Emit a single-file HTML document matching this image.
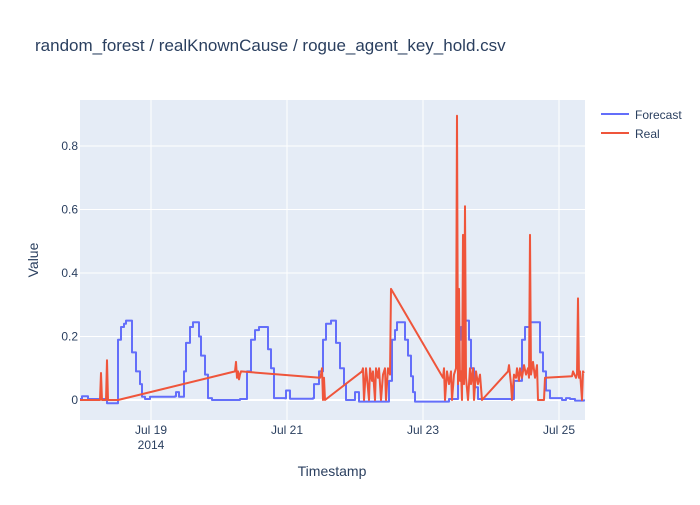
<!DOCTYPE html>
<html><head><meta charset="utf-8"><style>
body{margin:0;background:#fff;font-family:"Liberation Sans",Arial,sans-serif}
svg text{font-family:"Liberation Sans",Arial,sans-serif;fill:#2a3f5f}
</style></head><body>
<svg id="chart" width="700" height="500">
<rect width="700" height="500" fill="#fff"/>
<text x="35" y="51" font-size="17">random_forest / realKnownCause / rogue_agent_key_hold.csv</text>
<rect x="80" y="100" width="505" height="320" fill="#e5ecf6"/>
<g id="grid"></g>
<g id="ticks"></g>
<clipPath id="clip"><rect x="80" y="100" width="505" height="320"/></clipPath>
<g id="series" clip-path="url(#clip)"></g>
<text x="332" y="476" font-size="14" text-anchor="middle">Timestamp</text>
<text transform="translate(38,260) rotate(-90)" font-size="14" text-anchor="middle">Value</text>
<g>
<line x1="601" y1="114" x2="629" y2="114" stroke="#636efa" stroke-width="2"/>
<text x="635" y="119" font-size="12">Forecast</text>
<line x1="601" y1="133" x2="629" y2="133" stroke="#ef553b" stroke-width="2"/>
<text x="635" y="138" font-size="12">Real</text>
</g>
</svg>
<script>
// time in days of July 2014 (fractional), values
const forecastT=[17.956,17.985,18.044,18.074,18.324,18.353,18.5,18.515,18.559,18.603,18.632,18.706,18.721,18.779,18.838,18.868,18.912,18.985,19.353,19.368,19.397,19.412,19.471,19.485,19.515,19.574,19.618,19.691,19.706,19.735,19.794,19.838,19.897,20.309,20.397,20.412,20.471,20.529,20.588,20.691,20.721,20.765,20.809,20.971,20.985,21.029,21.044,21.382,21.397,21.441,21.471,21.529,21.574,21.647,21.706,21.721,21.779,21.838,21.868,21.971,22.0,22.044,22.059,22.368,22.5,22.544,22.588,22.618,22.691,22.735,22.779,22.824,22.853,22.882,23.324,23.382,23.485,23.515,23.559,23.588,23.662,23.676,23.706,23.75,23.809,24.279,24.338,24.456,24.5,24.574,24.691,24.721,24.765,24.809,24.868,24.971,25.044,25.103,25.162,25.235,25.368];
const forecastV=[0.003,0.012,0.012,0.003,0.003,-0.01,-0.01,0.19,0.23,0.24,0.25,0.25,0.15,0.09,0.05,0.01,0.003,0.01,0.012,0.025,0.025,0.01,0.01,0.09,0.18,0.23,0.245,0.245,0.2,0.14,0.08,0.006,0,0.003,0.003,0.09,0.19,0.22,0.23,0.23,0.16,0.1,0.006,0.005,0.03,0.03,0.004,0.006,0.05,0.05,0.09,0.19,0.24,0.25,0.25,0.18,0.1,0.05,0,0,0.025,0.025,-0.005,-0.005,0.06,0.19,0.22,0.245,0.245,0.19,0.14,0.075,0.025,-0.005,-0.005,0.003,0.003,0.19,0.23,0.25,0.25,0.19,0.1,0.04,0.003,0.003,0.06,0.19,0.23,0.245,0.245,0.15,0.09,0.03,0.006,0.006,0,0.006,0.003,-0.002,0.002];
const realT=[17.956,18.25,18.265,18.279,18.338,18.353,18.368,18.515,20.235,20.25,20.265,20.279,20.294,20.309,20.324,21.485,21.5,21.515,21.529,21.544,21.559,22.103,22.118,22.132,22.162,22.176,22.206,22.221,22.25,22.265,22.294,22.309,22.338,22.353,22.382,22.412,22.441,22.456,22.485,22.515,22.529,23.294,23.309,23.324,23.353,23.382,23.412,23.426,23.456,23.485,23.5,23.515,23.529,23.544,23.559,23.574,23.588,23.603,23.618,23.632,23.662,23.691,23.706,23.735,23.75,23.779,23.809,23.838,23.868,24.25,24.265,24.294,24.309,24.338,24.368,24.382,24.412,24.426,24.456,24.485,24.515,24.544,24.559,24.574,24.588,24.618,24.647,24.676,24.691,24.779,24.794,25.191,25.206,25.25,25.265,25.279,25.294,25.309,25.338,25.353,25.368];
const realV=[0,0,0.085,0,0,0.125,0,0,0.09,0.12,0.07,0.09,0.065,0.08,0.09,0.07,0.08,0.1,0,0.07,0,0.09,0.1,0,0.1,0.07,0,0.1,0.06,0.09,0,0.1,0.07,0.1,0,0.08,0.1,0,0.1,0.08,0.35,0.07,0.1,0,0.09,0.05,0.09,0,0.08,0.1,0.895,0.05,0.35,0.06,0.09,0,0.52,0.05,0.61,0.07,0,0.1,0.05,0.1,0,0.09,0.05,0.08,0,0.09,0.11,0.05,0,0.08,0.07,0.1,0.06,0.1,0.07,0.11,0.08,0.1,0.07,0.52,0.08,0.12,0.07,0.11,0,0,0.07,0.075,0.09,0.07,0.08,0.32,0.07,0.09,0,0.09,0.085];
const yTicks=[0,0.2,0.4,0.6,0.8];
const xTickDays=[19,21,23,25];
const xTickLabels=["Jul 19","Jul 21","Jul 23","Jul 25"];

const NS="http://www.w3.org/2000/svg";
const xs=d=>151+(d-19)*68;
const ys=v=>400-v*317.5;
function mk(tag,attrs,parent){const e=document.createElementNS(NS,tag);for(const k in attrs)e.setAttribute(k,attrs[k]);parent.appendChild(e);return e;}
const grid=document.getElementById('grid'),ticks=document.getElementById('ticks'),series=document.getElementById('series');
yTicks.forEach(v=>{
  const l=mk('line',{x1:80,x2:585,y1:ys(v),y2:ys(v),stroke:'#fff','stroke-width':v===0?2:1},grid);
  
  
  const t=mk('text',{x:78,y:ys(v)+4,'font-size':12,'text-anchor':'end'},ticks);
  t.textContent=String(v);
  
  
});
xTickDays.forEach((d,i)=>{
  const l=mk('line',{x1:xs(d),x2:xs(d),y1:100,y2:420,stroke:'#fff','stroke-width':1},grid);
  
  
  const t=mk('text',{x:xs(d),y:434,'font-size':12,'text-anchor':'middle'},ticks);
  t.textContent=xTickLabels[i];
  
  
});
const yr=mk('text',{x:xs(19),y:449,'font-size':12,'text-anchor':'middle'},ticks);
yr.textContent='2014';


function line(T,V,color,name,step){
  const pts=[];
  T.forEach((t,i)=>{
    if(step&&i>0)pts.push(xs(t).toFixed(1)+','+ys(V[i-1]).toFixed(1));
    pts.push(xs(t).toFixed(1)+','+ys(V[i]).toFixed(1));
  });
  const p=mk('polyline',{points:pts.join(' '),fill:'none',stroke:color,'stroke-width':2,'stroke-linejoin':'round'},series);
  
  
}
line(forecastT,forecastV,'#636efa','forecast-line',true);
line(realT,realV,'#ef553b','real-line',false);
</script>
</body></html>
